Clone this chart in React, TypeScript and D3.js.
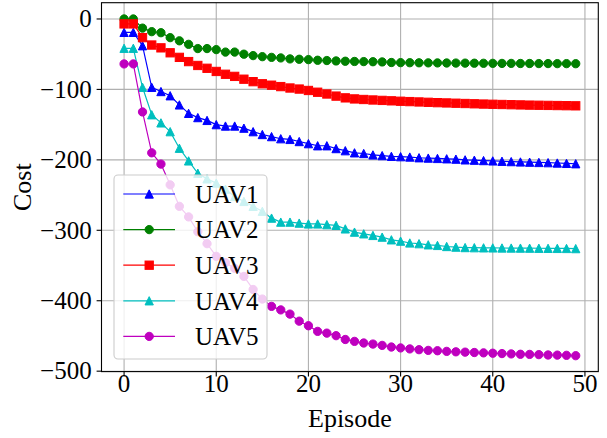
import React from "react";
import * as d3 from "d3";

// Cost per episode for each UAV (episodes 0..49)
const episodes = d3.range(50);

const uav1 = [
  -19, -19, -38, -97, -103, -109, -122, -134, -140, -144,
  -150, -152, -152, -155, -160, -164, -167, -170, -171, -174,
  -177, -180, -180, -184, -187, -190, -191, -193, -194, -195,
  -195.5, -196, -197, -197.5, -198, -198.5, -199, -200, -200.5, -201,
  -201.5, -202, -202.5, -203, -203.3, -203.7, -204, -204.5, -205, -205.5,
];
const uav2 = [
  0, 0, -13, -18, -19.5, -26.5, -31, -36, -42, -42,
  -43.5, -47, -47, -50, -52, -53.5, -54.5, -55.3, -56.7, -57.2,
  -57.7, -58.6, -59, -59.6, -60, -60.3, -60.5, -60.7, -61, -61.8,
  -62, -62.1, -62.2, -62.3, -62.4, -62.5, -62.6, -62.7, -62.8, -62.9,
  -63, -63.1, -63.1, -63.2, -63.2, -63.3, -63.3, -63.4, -63.4, -63.5,
];
const uav3 = [
  -7, -7, -26.5, -37, -41, -48, -54.5, -60.5, -66, -70,
  -74.5, -78.5, -81.5, -85.5, -89, -92, -94, -96, -98, -99.5,
  -101.5, -104, -106.5, -109.5, -112, -113.5, -114.3, -115, -115.6, -116.2,
  -116.8, -117.3, -117.8, -118.3, -118.8, -119.2, -119.6, -120, -120.4, -120.8,
  -121.1, -121.4, -121.7, -122, -122.3, -122.5, -122.7, -122.9, -123.1, -123.3,
];
const uav4 = [
  -41.6, -41.6, -97, -136, -147.5, -160, -183.5, -201.5, -219, -227,
  -233, -241.6, -252, -259, -266, -273, -282.7, -288.4, -288.4, -289.8,
  -291, -291, -292, -293, -298, -302.6, -305, -307.3, -309.7, -313.5,
  -315.4, -318, -319, -320.6, -321.5, -323, -323.9, -324.5, -324.7, -324.9,
  -325, -325.1, -325.2, -325.3, -325.4, -325.5, -325.6, -325.7, -325.8, -326,
];
const uav5 = [
  -63.8, -63.8, -132, -190, -206, -235.5, -266, -281, -302, -319,
  -337, -346, -354, -365.5, -384, -397.6, -408, -413, -419, -429,
  -435.5, -443.5, -446, -449.6, -455, -457.7, -460, -461.5, -463.4, -465.7,
  -467, -468.4, -469.5, -470.5, -471, -471.9, -472.5, -473, -473.5, -474,
  -474.5, -475, -475.5, -476, -476.2, -476.5, -477, -477.2, -477.5, -478,
];

const seriesNames = ["UAV1", "UAV2", "UAV3", "UAV4", "UAV5"];
const seriesValues = [uav1, uav2, uav3, uav4, uav5];
const seriesColors = ["#0000ff", "#008000", "#ff0000", "#00bfbf", "#bf00bf"];
const seriesMarkers = ["triangle", "circle", "square", "triangle", "circle"];

const xTicks = [0, 10, 20, 30, 40, 50];
const yTicks = [0, -100, -200, -300, -400, -500];

const W = 607;
const H = 438;
const plot = { left: 101.5, right: 598.3, top: 2.7, bottom: 371.6 };
const FONT = "'Liberation Serif', 'Times New Roman', serif";
const MS = 8.3; // marker size in px

function Marker({ kind, x, y, color }: { kind: string; x: number; y: number; color: string }) {
  const h = MS / 2;
  if (kind === "circle") {
    return <circle cx={x} cy={y} r={h} fill={color} stroke={color} strokeWidth={1} />;
  }
  if (kind === "square") {
    return <rect x={x - h} y={y - h} width={MS} height={MS} fill={color} stroke={color} strokeWidth={1} />;
  }
  const pts = `${x},${y - h} ${x - h},${y + h} ${x + h},${y + h}`;
  return <polygon points={pts} fill={color} stroke={color} strokeWidth={1} strokeLinejoin="miter" />;
}

export default function App() {
  const x = d3.scaleLinear().domain([-2.45, 51.45]).range([plot.left, plot.right]);
  const y = d3.scaleLinear().domain([-500.6, 23.1]).range([plot.bottom, plot.top]);

  const line = d3
    .line<number>()
    .x((_, i) => x(episodes[i]))
    .y((d) => y(d));

  const legend = { x: 114, y: 175, w: 153, h: 184 };
  const rowGap = 35.6;
  const firstRow = 194;

  return (
    <div style={{ position: "absolute", left: 0, top: 0 }}>
      <svg width={W} height={H} style={{ display: "block", background: "#fff" }}>
        <rect width={W} height={H} fill="#fff" />
        <defs>
          <clipPath id="plotclip">
            <rect x={plot.left} y={plot.top} width={plot.right - plot.left} height={plot.bottom - plot.top} />
          </clipPath>
        </defs>

        {/* grid */}
        <g stroke="#b0b0b0" strokeWidth={1.1}>
          {xTicks.map((t) => (
            <line key={"gx" + t} x1={x(t)} x2={x(t)} y1={plot.top} y2={plot.bottom} />
          ))}
          {yTicks.map((t) => (
            <line key={"gy" + t} x1={plot.left} x2={plot.right} y1={y(t)} y2={y(t)} />
          ))}
        </g>

        {/* series */}
        <g clipPath="url(#plotclip)">
          {seriesValues.map((vals, si) => (
            <g key={seriesNames[si]}>
              <path d={line(vals) || ""} fill="none" stroke={seriesColors[si]} strokeWidth={1.2} />
              {vals.map((v, i) => (
                <Marker key={i} kind={seriesMarkers[si]} x={x(episodes[i])} y={y(v)} color={seriesColors[si]} />
              ))}
            </g>
          ))}
        </g>

        {/* spines */}
        <rect
          x={plot.left}
          y={plot.top}
          width={plot.right - plot.left}
          height={plot.bottom - plot.top}
          fill="none"
          stroke="#000"
          strokeWidth={1.1}
        />

        {/* ticks and tick labels */}
        <g fontFamily={FONT} fontSize={25} fill="#000">
          {xTicks.map((t) => (
            <g key={"tx" + t}>
              <line x1={x(t)} x2={x(t)} y1={plot.bottom} y2={plot.bottom + 4.9} stroke="#000" strokeWidth={1.1} />
              <text x={x(t)} y={plot.bottom + 20.5} textAnchor="middle">
                {t}
              </text>
            </g>
          ))}
          {yTicks.map((t) => (
            <g key={"ty" + t}>
              <line x1={plot.left - 4.9} x2={plot.left} y1={y(t)} y2={y(t)} stroke="#000" strokeWidth={1.1} />
              <text x={plot.left - 9.8} y={y(t)} dy="0.33em" textAnchor="end">
                {t < 0 ? "\u2212" + Math.abs(t) : String(t)}
              </text>
            </g>
          ))}
        </g>

        {/* axis labels */}
        <text x={(plot.left + plot.right) / 2} y={427} textAnchor="middle" fontFamily={FONT} fontSize={26}>
          Episode
        </text>
        <text
          transform={`translate(31, ${(plot.top + plot.bottom) / 2}) rotate(-90)`}
          textAnchor="middle"
          fontFamily={FONT}
          fontSize={26}
        >
          Cost
        </text>

        {/* legend */}
        <g>
          <rect
            x={legend.x}
            y={legend.y}
            width={legend.w}
            height={legend.h}
            rx={4}
            ry={4}
            fill="#fff"
            fillOpacity={0.8}
            stroke="#cccccc"
            strokeWidth={1.1}
          />
          {seriesNames.map((name, si) => {
            const cy = firstRow + si * rowGap;
            return (
              <g key={"lg" + name}>
                <line x1={123.3} x2={175} y1={cy} y2={cy} stroke={seriesColors[si]} strokeWidth={1.2} />
                <Marker kind={seriesMarkers[si]} x={149.2} y={cy} color={seriesColors[si]} />
                <text x={195} y={cy} dy="0.35em" fontFamily={FONT} fontSize={25} fill="#000">
                  {name}
                </text>
              </g>
            );
          })}
        </g>
      </svg>
    </div>
  );
}
